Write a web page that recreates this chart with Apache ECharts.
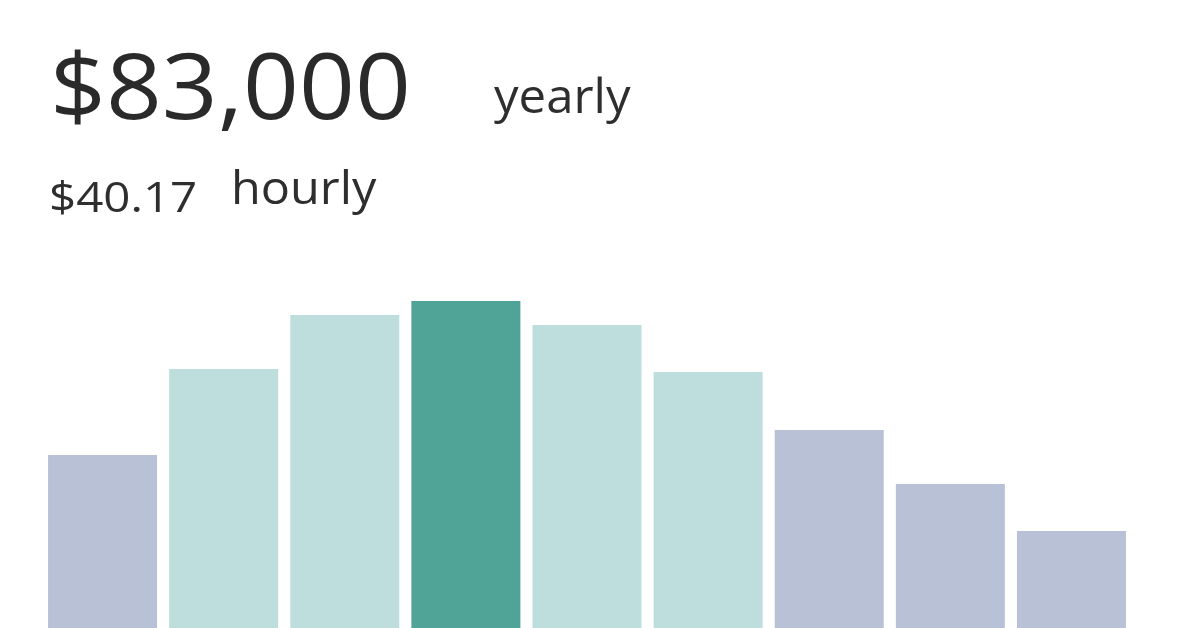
<!DOCTYPE html>
<html>
<head>
<meta charset="utf-8">
<script src="https://cdn.jsdelivr.net/npm/echarts@6/dist/echarts.min.js"></script>
<style>
html,body{margin:0;padding:0;background:#fff;}
#chart{width:1196px;height:628px;}
</style>
</head>
<body>
<div id="chart"></div>
<script>
// Salary distribution bins (relative frequency)
var categories = ['Bin 1','Bin 2','Bin 3','Bin 4','Bin 5','Bin 6','Bin 7','Bin 8','Bin 9'];
var values = [173, 259, 313, 327, 303, 256, 198, 144, 97];
var yearlyLabel = '$83,000';
var yearlyUnit = 'yearly';
var hourlyLabel = '$40.17';
var hourlyUnit = 'hourly';
var highlightIndex = 3;

var chart = echarts.init(document.getElementById('chart'));
var fontFam = '"Open Sans", "Noto Sans", sans-serif';
function txt(str, x, y, size, sx, color) {
  return { type: 'text', x: x, y: y, scaleX: sx, scaleY: 1,
    style: { text: str, x: 0, y: 0, align: 'left', verticalAlign: 'top',
      font: '400 ' + size + 'px ' + fontFam, fill: color } };
}
chart.setOption({
  animation: false,
  backgroundColor: '#ffffff',
  grid: { left: 42, right: 64, top: 278, bottom: 0, containLabel: false },
  xAxis: {
    type: 'category', data: categories,
    axisLine: { show: false }, axisTick: { show: false }, axisLabel: { show: false }, splitLine: { show: false }
  },
  yAxis: {
    type: 'value', min: 0, max: 350,
    axisLine: { show: false }, axisTick: { show: false }, axisLabel: { show: false }, splitLine: { show: false }
  },
  series: [{
    type: 'bar',
    data: values,
    barCategoryGap: '10%',
    itemStyle: {
      color: function (p) {
        var d = Math.abs(p.dataIndex - highlightIndex);
        if (d === 0) return '#50a397';
        if (d <= 2) return '#bedddd';
        return '#b9c1d6';
      }
    }
  }],
  graphic: [
    txt(yearlyLabel, 50, 48, 91, 1.075, '#2a2a2a'),
    txt(yearlyUnit, 494, 76, 47, 1.045, '#2e2e2e'),
    txt(hourlyLabel, 49, 179, 42, 1.13, '#2e2e2e'),
    txt(hourlyUnit, 231, 169, 45, 1.08, '#2e2e2e')
  ]
});
</script>
</body>
</html>
